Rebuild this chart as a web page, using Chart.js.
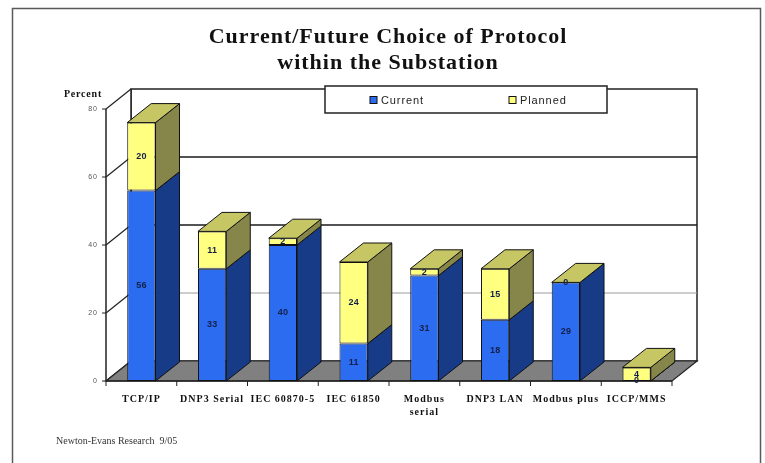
<!DOCTYPE html>
<html>
<head>
<meta charset="utf-8">
<title>Current/Future Choice of Protocol</title>
<script src="https://cdn.jsdelivr.net/npm/chart.js@4/dist/chart.umd.min.js"></script>
<style>
    html, body { margin: 0; padding: 0; background: #fff; }
    canvas { display: block; }
</style>
</head>
<body>
<canvas id="protocolChart" width="765" height="463"></canvas>
<script>
/* ── Data ─────────────────────────────────────────────────────── */
const protocols   = ['TCP/IP', 'DNP3 Serial', 'IEC 60870-5', 'IEC 61850',
                     ['Modbus', 'serial'], 'DNP3 LAN', 'Modbus plus', 'ICCP/MMS'];
const currentPct  = [56, 33, 40, 11, 31, 18, 29, 0];
const plannedPct  = [20, 11, 2, 24, 2, 15, 0, 4];
const yTicks      = [0, 20, 40, 60, 80];

/* ── Look ─────────────────────────────────────────────────────── */
const SERIF = "'Liberation Serif', 'Times New Roman', serif";
const SANS  = "'Liberation Sans', Arial, sans-serif";
const DEPTH = { dx: 24, dy: -19 };     // bar depth
const WALL  = { dx: 25, dy: -20 };     // floor / wall depth

const faces = [
    { front: '#2b6cf0', side: '#173b86', top: '#1e4cb0' },   // Current
    { front: '#ffff80', side: '#86864a', top: '#c6c664' }    // Planned
];

function poly(ctx, pts, fill, stroke, lw) {
    ctx.beginPath();
    ctx.moveTo(pts[0][0], pts[0][1]);
    for (let i = 1; i < pts.length; i++) ctx.lineTo(pts[i][0], pts[i][1]);
    ctx.closePath();
    if (fill) { ctx.fillStyle = fill; ctx.fill(); }
    if (stroke) { ctx.strokeStyle = stroke; ctx.lineWidth = lw || 1; ctx.stroke(); }
}

function line(ctx, x1, y1, x2, y2, color, lw) {
    ctx.beginPath();
    ctx.moveTo(x1, y1);
    ctx.lineTo(x2, y2);
    ctx.strokeStyle = color;
    ctx.lineWidth = lw || 1;
    ctx.stroke();
}

/* ── Walls, floor, frame and titles behind the bars ───────────── */
const backdropPlugin = {
    id: 'backdrop3d',
    beforeDraw(chart) {
        const ctx = chart.ctx;
        ctx.save();
        ctx.fillStyle = '#fff';
        ctx.fillRect(0, 0, chart.width, chart.height);

        // outer frame
        ctx.strokeStyle = '#5a5a5a';
        ctx.lineWidth = 1.5;
        ctx.strokeRect(12.5, 8.5, 748, 470);

        // titles
        ctx.fillStyle = '#111';
        ctx.textAlign = 'center';
        ctx.textBaseline = 'middle';
        ctx.letterSpacing = '1px';
        ctx.font = 'bold 22px ' + SERIF;
        ctx.fillText('Current/Future Choice of Protocol', 388, 37);
        ctx.fillText('within the Substation', 388, 63);

        ctx.letterSpacing = '0.8px';
        ctx.font = 'bold 10px ' + SERIF;
        ctx.fillText('Percent', 83, 94);

        ctx.font = '10px ' + SERIF;
        ctx.letterSpacing = '0px';
        ctx.textAlign = 'left';
        ctx.fillStyle = '#333';
        ctx.fillText('Newton-Evans Research  9/05', 56, 441);
        ctx.restore();

        // axis labels get the same loose spacing
        ctx.letterSpacing = '1px';
    },
    beforeDatasetsDraw(chart) {
        const ctx = chart.ctx;
        const { left, right, top, bottom } = chart.chartArea;
        const y = chart.scales.y;
        const { dx, dy } = WALL;
        ctx.save();

        // back wall + left wall
        poly(ctx, [[left + dx, top + dy], [right + dx, top + dy],
                   [right + dx, bottom + dy], [left + dx, bottom + dy]], '#fff', '#222', 1.5);
        poly(ctx, [[left, top], [left + dx, top + dy],
                   [left + dx, bottom + dy], [left, bottom]], '#fff', null);

        // gridlines on back wall and side wall
        yTicks.forEach(v => {
            const py = y.getPixelForValue(v);
            const col = (v === 20) ? '#9a9a9a' : '#1a1a1a';
            if (v > 0 && v < 80) line(ctx, left + dx, py + dy, right + dx, py + dy, col, v === 20 ? 1 : 1.6);
            line(ctx, left, py, left + dx, py + dy, '#222', 1.2);
            line(ctx, left - 4, py, left, py, '#222', 1);
        });

        // floor
        poly(ctx, [[left, bottom], [right, bottom],
                   [right + dx, bottom + dy], [left + dx, bottom + dy]], '#808080', '#222', 1.2);

        // axes
        line(ctx, left + dx, top + dy, left + dx, bottom + dy, '#222', 1.5);
        line(ctx, left, top, left, bottom, '#222', 1.5);
        line(ctx, left, bottom, right, bottom, '#222', 1.5);

        // category tick marks on the front edge
        const step = (right - left) / protocols.length;
        for (let i = 0; i <= protocols.length; i++) {
            const px = left + i * step;
            line(ctx, px, bottom, px, bottom + 5, '#222', 1);
        }
        ctx.restore();
    },
    afterDatasetsDraw(chart) {
        const ctx = chart.ctx;
        const { dx, dy } = DEPTH;
        const last = chart.data.datasets.length - 1;
        ctx.save();
        ctx.letterSpacing = '0px';

        // side and top faces
        chart.data.datasets.forEach((ds, di) => {
            const meta = chart.getDatasetMeta(di);
            meta.data.forEach(el => {
                const p = el.getProps(['x', 'y', 'base', 'width'], true);
                const l = p.x - p.width / 2, r = p.x + p.width / 2;
                poly(ctx, [[r, p.y], [r + dx, p.y + dy], [r + dx, p.base + dy], [r, p.base]],
                     faces[di].side, '#111', 1);
                if (di === last) {
                    poly(ctx, [[l, p.y], [l + dx, p.y + dy], [r + dx, p.y + dy], [r, p.y]],
                         faces[di].top, '#111', 1);
                }
            });
        });

        // value labels
        ctx.font = 'bold 9px ' + SANS;
        ctx.fillStyle = '#14204a';
        ctx.textAlign = 'center';
        ctx.textBaseline = 'middle';
        chart.data.datasets.forEach((ds, di) => {
            const meta = chart.getDatasetMeta(di);
            meta.data.forEach((el, i) => {
                const p = el.getProps(['x', 'y', 'base'], true);
                ctx.fillText(String(ds.data[i]), p.x, (p.y + p.base) / 2);
            });
        });

        // legend
        ctx.fillStyle = '#fff';
        ctx.fillRect(325, 86, 282, 27);
        ctx.strokeStyle = '#222';
        ctx.lineWidth = 1.5;
        ctx.strokeRect(325, 86, 282, 27);
        ctx.font = '11px ' + SANS;
        ctx.letterSpacing = '0.9px';
        ctx.textAlign = 'left';
        const legendX = [370, 509];
        chart.data.datasets.forEach((ds, di) => {
            ctx.fillStyle = faces[di].front;
            ctx.fillRect(legendX[di], 96.5, 7, 7);
            ctx.strokeStyle = '#111';
            ctx.lineWidth = 1;
            ctx.strokeRect(legendX[di], 96.5, 7, 7);
            ctx.fillStyle = '#222';
            ctx.fillText(ds.label, legendX[di] + 11, 100.5);
        });
        ctx.restore();
    }
};

/* ── Chart ────────────────────────────────────────────────────── */
new Chart(document.getElementById('protocolChart'), {
    type: 'bar',
    data: {
        labels: protocols,
        datasets: [
            {
                label: 'Current',
                data: currentPct,
                backgroundColor: faces[0].front,
                borderColor: '#111',
                borderWidth: 1,
                borderSkipped: false
            },
            {
                label: 'Planned',
                data: plannedPct,
                backgroundColor: faces[1].front,
                borderColor: '#111',
                borderWidth: 1,
                borderSkipped: false
            }
        ]
    },
    options: {
        responsive: false,
        animation: false,
        layout: { padding: { left: 0, right: 93, top: 109, bottom: 42 } },
        datasets: { bar: { barPercentage: 0.4, categoryPercentage: 1 } },
        plugins: {
            legend: { display: false },
            title: { display: false },
            tooltip: { enabled: false }
        },
        scales: {
            x: {
                stacked: true,
                grid: { display: false },
                border: { display: false },
                ticks: {
                    padding: 4,
                    color: '#111',
                    maxRotation: 0,
                    autoSkip: false,
                    font: { family: SERIF, size: 10, weight: 'bold', lineHeight: 1.3 }
                },
                afterFit: s => { s.height = 40; }
            },
            y: {
                stacked: true,
                min: 0,
                max: 80,
                grid: { display: false },
                border: { display: false },
                ticks: {
                    stepSize: 20,
                    padding: 0,
                    color: '#555',
                    font: { family: SANS, size: 7 }
                },
                afterFit: s => { s.width = 106; }
            }
        }
    },
    plugins: [backdropPlugin]
});
</script>
</body>
</html>
